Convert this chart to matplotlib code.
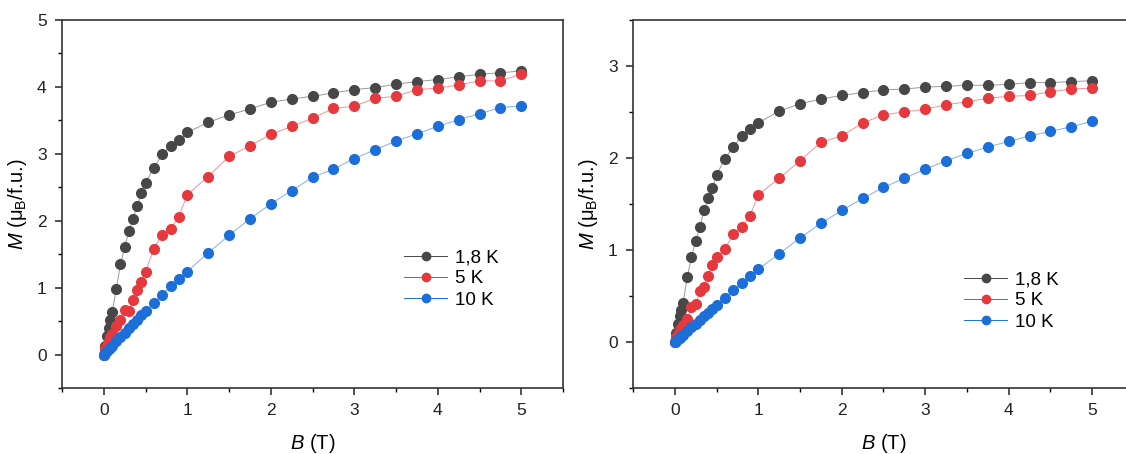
import numpy as np
import matplotlib.pyplot as plt

plt.rcParams['font.family'] = ['Liberation Sans', 'DejaVu Sans']
plt.rcParams['mathtext.fontset'] = 'custom'
plt.rcParams['mathtext.rm'] = 'Liberation Sans'
plt.rcParams['mathtext.it'] = 'Liberation Sans:italic'

# field values (T), shared by all curves
B = [0, 0.02, 0.04, 0.06, 0.08, 0.1, 0.15, 0.2, 0.25, 0.3, 0.35, 0.4, 0.45, 0.5,
     0.6, 0.7, 0.8, 0.9, 1.0, 1.25, 1.5, 1.75, 2.0, 2.25, 2.5, 2.75, 3.0, 3.25,
     3.5, 3.75, 4.0, 4.25, 4.5, 4.75, 5.0]

labels = ["1,8 K", "5 K", "10 K"]

# left panel
left_18K = [0, 0.13, 0.28, 0.40, 0.52, 0.63, 0.98, 1.35, 1.60, 1.84, 2.03, 2.22, 2.41, 2.57,
            2.79, 2.99, 3.12, 3.20, 3.32, 3.47, 3.58, 3.67, 3.77, 3.82, 3.86, 3.91, 3.96, 3.99,
            4.04, 4.08, 4.11, 4.15, 4.19, 4.21, 4.24]
left_5K = [0, 0.08, 0.15, 0.20, 0.26, 0.31, 0.42, 0.52, 0.66, 0.65, 0.82, 0.97, 1.08, 1.24,
           1.58, 1.79, 1.88, 2.06, 2.39, 2.66, 2.96, 3.12, 3.29, 3.41, 3.53, 3.68, 3.71, 3.83,
           3.86, 3.96, 3.98, 4.03, 4.09, 4.09, 4.19]
left_10K = [0, 0.026, 0.052, 0.078, 0.104, 0.13, 0.195, 0.26, 0.325, 0.39, 0.45, 0.52, 0.585, 0.65,
            0.77, 0.89, 1.02, 1.13, 1.24, 1.52, 1.78, 2.03, 2.25, 2.45, 2.65, 2.77, 2.93, 3.06,
            3.19, 3.30, 3.41, 3.51, 3.60, 3.69, 3.72]

# right panel
right_18K = [0, 0.10, 0.20, 0.28, 0.35, 0.42, 0.71, 0.92, 1.10, 1.25, 1.43, 1.56, 1.67, 1.82,
             1.99, 2.12, 2.24, 2.32, 2.38, 2.51, 2.59, 2.64, 2.68, 2.71, 2.74, 2.75, 2.77, 2.78,
             2.79, 2.79, 2.80, 2.82, 2.82, 2.83, 2.84]
right_5K = [0, 0.05, 0.09, 0.12, 0.15, 0.19, 0.25, 0.38, 0.41, 0.55, 0.60, 0.72, 0.84, 0.92,
            1.01, 1.17, 1.25, 1.37, 1.60, 1.78, 1.97, 2.17, 2.24, 2.38, 2.47, 2.50, 2.53, 2.58,
            2.61, 2.65, 2.67, 2.68, 2.72, 2.75, 2.76]
right_10K = [0, 0.016, 0.032, 0.048, 0.064, 0.08, 0.12, 0.16, 0.20, 0.24, 0.28, 0.32, 0.36, 0.40,
             0.48, 0.56, 0.64, 0.72, 0.79, 0.96, 1.13, 1.29, 1.43, 1.56, 1.68, 1.78, 1.88, 1.97,
             2.05, 2.12, 2.18, 2.24, 2.29, 2.34, 2.40]

colors = ["#474747", "#e6393d", "#1c6fd8"]

W, H = 1126, 454
fig = plt.figure(figsize=(W / 100, H / 100), dpi=100)
ax1 = fig.add_axes([62 / W, (H - 388) / H, 501 / W, 368 / H])
ax2 = fig.add_axes([633 / W, (H - 388) / H, 501 / W, 368 / H])


def draw(ax, series, ylim, yticks, leg_anchor):
    for vals, c, lab in zip(series, colors, labels):
        ax.plot(B, vals, color=c, lw=0.7, alpha=0.55)
        ax.plot(B, vals, ls="none", marker="o", ms=7, color=c, mec=c)
        # proxy for legend
        ax.plot([], [], color=c, lw=0.7, marker="o", ms=6, label=lab,
                markeredgecolor=c)
    ax.set_xlim(-0.5, 5.5)
    ax.set_ylim(*ylim)
    ax.set_xticks([0, 1, 2, 3, 4, 5])
    ax.set_xticks(np.arange(-0.5, 5.6, 0.5), minor=True)
    ax.set_yticks(yticks)
    ax.set_yticks(np.arange(ylim[0], ylim[1] + 0.01, 0.5), minor=True)
    ax.tick_params(which="major", direction="out", length=5, width=1.1,
                   labelsize=12.5, colors="#222222", pad=6)
    ax.tick_params(which="minor", direction="out", length=3, width=1.0)
    ax.tick_params(axis="x", which="both", top=False)
    ax.tick_params(axis="y", which="both", right=False)
    for s in ax.spines.values():
        s.set_linewidth(1.2)
        s.set_color("#333333")
    ax.set_xlabel(r"$B$ (T)", fontsize=14.5, labelpad=10)
    ax.set_ylabel(r"$M$ ($\mathrm{\mu_B}$/f.u.)", fontsize=14.5, labelpad=6)
    ax.legend(frameon=False, fontsize=13.5, handlelength=2.3, handletextpad=0.4,
              labelspacing=0.22, loc="upper left", bbox_to_anchor=leg_anchor,
              bbox_transform=fig.transFigure, borderaxespad=0, borderpad=0)


draw(ax1, [left_18K, left_5K, left_10K], (-0.5, 5), [0, 1, 2, 3, 4, 5], (404 / W, 1 - 249 / H))
draw(ax2, [right_18K, right_5K, right_10K], (-0.5, 3.5), [0, 1, 2, 3], (964 / W, 1 - 271 / H))

fig.savefig("out.png", dpi=100)
